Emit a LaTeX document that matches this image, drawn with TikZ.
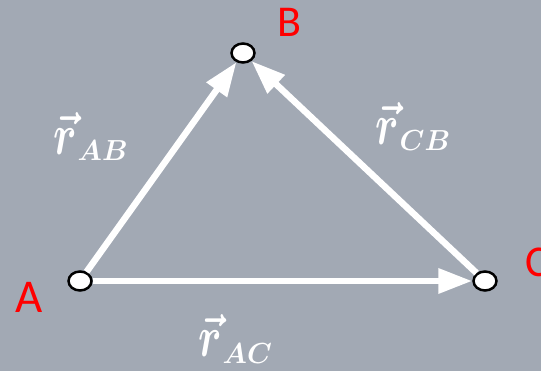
\documentclass[tikz,border=0pt]{standalone}
\usepackage{fontspec}
\usepackage{graphicx}
\newfontfamily\labfont{Carlito}
\usetikzlibrary{arrows.meta,shapes.geometric}
\definecolor{bggray}{RGB}{162,169,180}
\definecolor{ptred}{RGB}{255,0,0}
\newcommand{\vlab}[1]{\scalebox{4.2}[5.8]{\boldmath$\vec{r}$}\kern1pt\raisebox{-6pt}{\scalebox{2.8}[2.9]{\boldmath$#1$}}}
\tikzset{
  pt/.style={ellipse, draw=black, fill=white, line width=2.5pt, minimum width=23pt, minimum height=19pt, inner sep=0pt},
  vec/.style={draw=white, line width=6.5pt, -{Triangle[length=34pt,width=24pt]}},
  ptlab/.style={text=ptred, font=\labfont\fontsize{44}{44}\selectfont, inner sep=0pt},
  veclab/.style={text=white, inner sep=0pt, anchor=base west}
}
\begin{document}
\begin{tikzpicture}[x=1pt,y=-1pt]
\useasboundingbox (0,0) rectangle (541,371);
\clip (0,0) rectangle (541,371);
\fill[bggray] (0,0) rectangle (541,371);
\node[pt] (A) at (80,281) {};
\node[pt] (B) at (243,53) {};
\node[pt] (C) at (485,281) {};
\draw[vec] (A) -- (B);
\draw[vec] (C) -- (B);
\draw[vec] (A) -- (C);
\node[ptlab, font=\labfont\fontsize{47}{47}\selectfont] (la) at (29,297) {A};
\node[ptlab] (lb) at (289.5,22) {B};
\node[ptlab, anchor=west] (lc) at (525,262) {C};
\node[veclab] (rab) at (53,155) {\vlab{AB}};
\node[veclab] (rcb) at (375,145) {\vlab{CB}};
\node[veclab] (rac) at (198,357) {\vlab{AC}};
\end{tikzpicture}
\end{document}
